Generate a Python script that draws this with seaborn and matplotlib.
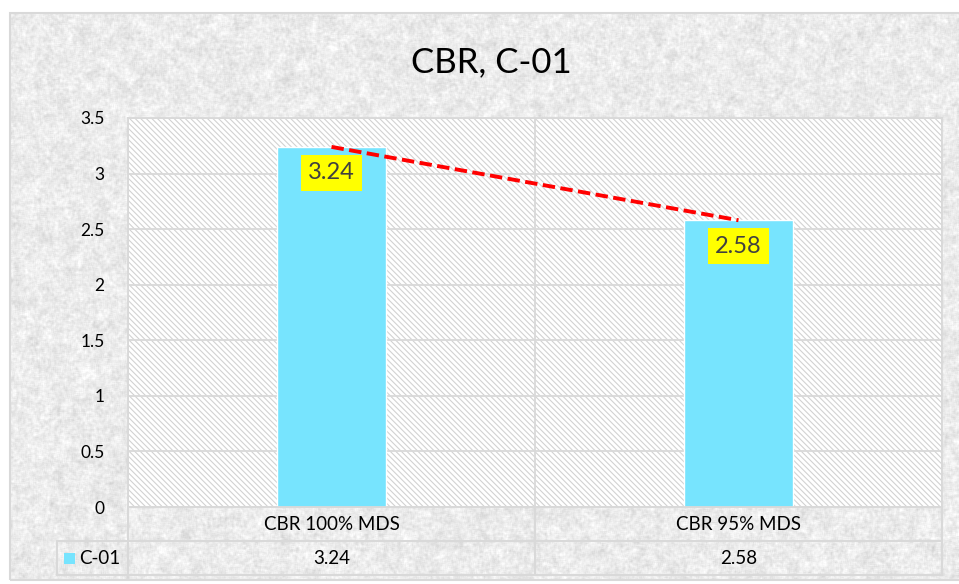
import numpy as np
import pandas as pd
import matplotlib
matplotlib.use("Agg")
import matplotlib.pyplot as plt
import matplotlib.transforms as mtransforms
from matplotlib.patches import Rectangle
from matplotlib.lines import Line2D
import seaborn as sns

# ---- data ----
categories = ["CBR 100% MDS", "CBR 95% MDS"]
values = [3.24, 2.58]
series_name = "C-01"
title = "CBR, C-01"
y_ticks = [0, 0.5, 1, 1.5, 2, 2.5, 3, 3.5]
y_tick_labels = ["0", "0.5", "1", "1.5", "2", "2.5", "3", "3.5"]

BAR_COLOR = "#77E4FE"
GRID = "#d9d9d9"
TEXT = "#000000"

sns.set_theme(style="white")
plt.rcParams["font.family"] = ["Lato", "DejaVu Sans"]
plt.rcParams["hatch.linewidth"] = 0.8

W, H = 959, 584
fig = plt.figure(figsize=(W / 100, H / 100), dpi=100)
fig.patch.set_facecolor("white")


def fx(px):
    return px / W


def fy(py):
    return 1 - py / H


# ---- granite-like texture for the chart area ----
def box_blur(a, r):
    k = 2 * r + 1
    p = np.pad(a, r, mode="reflect")
    c = np.cumsum(p, axis=0)
    c = np.vstack([np.zeros((1, c.shape[1])), c])
    a = (c[k:, :] - c[:-k, :]) / k
    c = np.cumsum(a, axis=1)
    c = np.hstack([np.zeros((c.shape[0], 1)), c])
    return (c[:, k:] - c[:, :-k]) / k


rng = np.random.default_rng(11)
fine = box_blur(rng.random((H, W)), 1)
coarse = box_blur(rng.random((H, W)), 4)
tex = 0.55 * (fine - fine.mean()) / fine.std() + 0.45 * (coarse - coarse.mean()) / coarse.std()
gray = np.clip(0.925 + 0.035 * tex, 0.80, 1.0)
img = np.ones((H, W, 3))
x0, y0, x1, y1 = 10, 13, W, 580
img[y0:y1, x0:x1, :] = gray[y0:y1, x0:x1, None]
fig.figimage(img, xo=0, yo=0, origin="upper", zorder=-10)

# chart area border
fig.add_artist(Rectangle((fx(10), fy(580)), fx(W + 5) - fx(10), fy(13) - fy(580),
                         transform=fig.transFigure, fill=False, ec=GRID, lw=1.5, zorder=1))

# ---- plot area ----
ax = fig.add_axes([fx(128), fy(507), fx(942) - fx(128), fy(118) - fy(507)])
ax.set_zorder(2)
ax.set_facecolor("white")
ax.add_patch(Rectangle((0, 0), 1, 1, transform=ax.transAxes, facecolor="none",
                       edgecolor="#d2d2d2", hatch="\\\\\\\\\\\\", lw=0, zorder=0))

df = pd.DataFrame({"category": categories, "value": values})
sns.barplot(data=df, x="category", y="value", color=BAR_COLOR, saturation=1,
            width=0.27, errorbar=None, ax=ax, zorder=2)

ax.set_xlim(-0.5, 1.5)
ax.set_ylim(0, 3.5)
ax.set_yticks(y_ticks)
ax.set_yticklabels(y_tick_labels)
ax.tick_params(axis="y", length=0, pad=17, labelsize=12.5, labelcolor=TEXT)
ax.set_xticks([])
ax.set_xlabel("")
ax.set_ylabel("")
for yv in y_ticks:
    ax.axhline(yv, color=GRID, lw=1.3, zorder=1)
for xv in [-0.5, 0.5, 1.5]:
    ax.axvline(xv, color=GRID, lw=1.3, zorder=1)
for s in ax.spines.values():
    s.set_color(GRID)
    s.set_linewidth(1.3)

# linear trendline through the series
xi = np.arange(len(values))
slope, intercept = np.polyfit(xi, values, 1)
ax.plot(xi, slope * xi + intercept, color="#FF0000", lw=2.8,
        linestyle=(0, (3.2, 1.4)), dash_capstyle="butt", zorder=4)

# value labels inside bar tops
for i, v in enumerate(values):
    ax.annotate(f"{v:.2f}", xy=(i, v), xytext=(0, -26), textcoords="offset pixels",
                ha="center", va="center", fontsize=17, color="#404040", zorder=5,
                bbox=dict(boxstyle="square,pad=0.32", fc="#FFFF00", ec="none"))

# ---- title ----
fig.text(fx(491), fy(62), title, ha="center", va="center", fontsize=25, color=TEXT)

# ---- data table below the axis ----
tbl_kw = dict(color=GRID, lw=1.5, transform=fig.transFigure, zorder=2)
for (xa, ya, xb, yb) in [(128, 507, 942, 507), (57, 541, 942, 541), (57, 575, 942, 575),
                         (128, 507, 128, 575), (535, 507, 535, 575), (942, 507, 942, 575),
                         (57, 541, 57, 575)]:
    fig.add_artist(Line2D([fx(xa), fx(xb)], [fy(ya), fy(yb)], **tbl_kw))

blend = mtransforms.blended_transform_factory(ax.transData, fig.transFigure)
for i, (c, v) in enumerate(zip(categories, values)):
    fig.text(i, fy(524), c, transform=blend, ha="center", va="center",
             fontsize=13.5, color=TEXT)
    fig.text(i, fy(558), f"{v:.2f}", transform=blend, ha="center", va="center",
             fontsize=13.5, color=TEXT)

fig.add_artist(Rectangle((fx(64), fy(564)), fx(75) - fx(64), fy(553) - fy(564),
                         transform=fig.transFigure, fc=BAR_COLOR, ec="none", zorder=3))
fig.text(fx(79), fy(558), series_name, ha="left", va="center", fontsize=13.5, color=TEXT)

fig.savefig("out.png", dpi=100, facecolor=fig.get_facecolor())
